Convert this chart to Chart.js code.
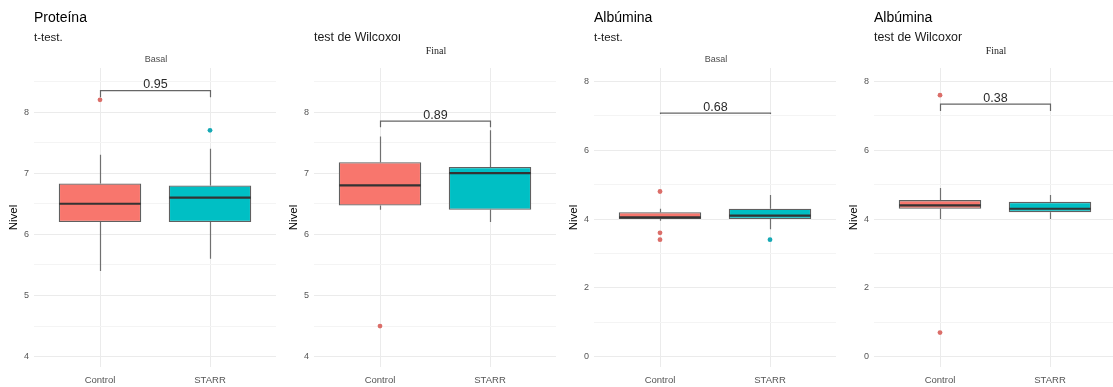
<!DOCTYPE html>
<html lang="es">
<head>
<meta charset="utf-8">
<title>Proteína y Albúmina: Control vs STARR</title>
<script src="https://cdn.jsdelivr.net/npm/chart.js@4.4.1/dist/chart.umd.min.js"></script>
<style>
  html, body { margin: 0; padding: 0; background: #ffffff; }
  body { width: 1113px; height: 387px; position: relative; overflow: hidden;
         font-family: "Liberation Sans", Arial, sans-serif; }
  .panel { position: absolute; top: 0; width: 280px; height: 387px; }
  .panel canvas { position: absolute; left: 0; top: 0; }
  .title { position: absolute; left: 34px; top: 7px; height: 20px; line-height: 20px;
           font-size: 14px; color: #000; white-space: nowrap; }
  .subtitle { position: absolute; left: 34px; top: 28px; height: 18px; line-height: 18px;
              font-size: 11.5px; color: #1a1a1a; white-space: nowrap; overflow: hidden; }
  .subtitle.wide { font-size: 12.4px; }
  .strip { position: absolute; left: 34px; width: 244px; text-align: center; height: 14px; line-height: 14px;
           white-space: nowrap; }
  .strip.sans { top: 52px; font-size: 9px; color: #4d4d4d; }
  .strip.serif { top: 44px; font-family: "Liberation Serif", "Times New Roman", serif; font-size: 10px; color: #1a1a1a; }
</style>
</head>
<body>
<script>
// Groups shown on every x axis
const groups = ['Control', 'STARR'];

// Proteína – Basal (t-test)
const protBasalLow  = [5.4, 5.6];
const protBasalQ1   = [6.2, 6.2];
const protBasalMed  = [6.5, 6.6];
const protBasalQ3   = [6.83, 6.8];
const protBasalHigh = [7.3, 7.4];
const protBasalOutControl = [8.2];
const protBasalOutStarr   = [7.7];

// Proteína – Final (Wilcoxon)
const protFinalLow  = [6.4, 6.2];
const protFinalQ1   = [6.47, 6.4];
const protFinalMed  = [6.8, 7.0];
const protFinalQ3   = [7.18, 7.1];
const protFinalHigh = [7.6, 7.7];
const protFinalOutControl = [4.5];
const protFinalOutStarr   = [];

// Albúmina – Basal (t-test)
const albBasalLow  = [3.95, 3.7];
const albBasalQ1   = [4.0, 4.0];
const albBasalMed  = [4.05, 4.1];
const albBasalQ3   = [4.2, 4.3];
const albBasalHigh = [4.3, 4.7];
const albBasalOutControl = [4.8, 3.6, 3.4];
const albBasalOutStarr   = [3.4];

// Albúmina – Final (Wilcoxon)
const albFinalLow  = [4.0, 4.0];
const albFinalQ1   = [4.3, 4.2];
const albFinalMed  = [4.4, 4.3];
const albFinalQ3   = [4.55, 4.5];
const albFinalHigh = [4.9, 4.7];
const albFinalOutControl = [7.6, 0.7];
const albFinalOutStarr   = [];

// Comparison brackets and their p-values
const pValues     = ['0.95', '0.89', '0.68', '0.38'];
const bracketY    = [8.35, 7.85, 7.08, 7.34];
const bracketTipY = [8.24, 7.75, 7.05, 7.14];

// Headings
const titles    = ['Proteína', '', 'Albúmina', 'Albúmina'];
const subtitles = ['t-test.', 'test de Wilcoxon', 't-test.', 'test de Wilcoxon'];
const strips    = ['Basal', 'Final', 'Basal', 'Final'];

// Y axis tick labels
const proteinaTicks = [4, 5, 6, 7, 8];
const albuminaTicks = [0, 2, 4, 6, 8];

const FILLS = ['#F8766D', '#00BFC4'];
const POINT_COLORS = ['#DB6E69', '#17A9B5'];
const SANS = '"Liberation Sans", Arial, sans-serif';

const panels = [
  { low: protBasalLow, q1: protBasalQ1, med: protBasalMed, q3: protBasalQ3, high: protBasalHigh,
    out: [protBasalOutControl, protBasalOutStarr], ticks: proteinaTicks, min: 3.83, max: 8.72, serif: false },
  { low: protFinalLow, q1: protFinalQ1, med: protFinalMed, q3: protFinalQ3, high: protFinalHigh,
    out: [protFinalOutControl, protFinalOutStarr], ticks: proteinaTicks, min: 3.83, max: 8.72, serif: true },
  { low: albBasalLow, q1: albBasalQ1, med: albBasalMed, q3: albBasalQ3, high: albBasalHigh,
    out: [albBasalOutControl, albBasalOutStarr], ticks: albuminaTicks, min: -0.3, max: 8.39, serif: false },
  { low: albFinalLow, q1: albFinalQ1, med: albFinalMed, q3: albFinalQ3, high: albFinalHigh,
    out: [albFinalOutControl, albFinalOutStarr], ticks: albuminaTicks, min: -0.3, max: 8.39, serif: true }
];

// The long subtitle is cut at the panel's heading box
const subtitleClip = [null, 85.5, null, 87.5];

// Whiskers under the boxes; medians and significance brackets on top
const boxPlotExtras = {
  id: 'boxPlotExtras',
  beforeDatasetsDraw(chart, args, opts) {
    const idx = opts.index;
    const p = panels[idx];
    const xs = chart.scales.x, ys = chart.scales.y;
    const ctx = chart.ctx;
    ctx.save();
    ctx.strokeStyle = '#707070';
    ctx.lineWidth = 1.2;
    groups.forEach((g, i) => {
      const x = Math.round(xs.getPixelForValue(i + 1)) + 0.5;
      ctx.beginPath();
      ctx.moveTo(x, ys.getPixelForValue(p.high[i]));
      ctx.lineTo(x, ys.getPixelForValue(p.q3[i]));
      ctx.moveTo(x, ys.getPixelForValue(p.q1[i]));
      ctx.lineTo(x, ys.getPixelForValue(p.low[i]));
      ctx.stroke();
    });
    ctx.restore();
  },
  afterDatasetsDraw(chart, args, opts) {
    const idx = opts.index;
    const p = panels[idx];
    const xs = chart.scales.x, ys = chart.scales.y;
    const ctx = chart.ctx;
    const bars = chart.getDatasetMeta(0).data;
    ctx.save();
    // medians
    ctx.strokeStyle = '#333333';
    ctx.lineWidth = 2.2;
    groups.forEach((g, i) => {
      const bar = bars[i];
      const y = ys.getPixelForValue(p.med[i]);
      ctx.beginPath();
      ctx.moveTo(bar.x - bar.width / 2 + 0.5, y);
      ctx.lineTo(bar.x + bar.width / 2 - 0.5, y);
      ctx.stroke();
    });
    // bracket
    const x1 = Math.round(xs.getPixelForValue(1)) + 0.5;
    const x2 = Math.round(xs.getPixelForValue(2)) + 0.5;
    const yb = ys.getPixelForValue(bracketY[idx]);
    const yt = ys.getPixelForValue(bracketTipY[idx]);
    ctx.strokeStyle = '#666666';
    ctx.lineWidth = 1.2;
    ctx.beginPath();
    ctx.moveTo(x1, yt);
    ctx.lineTo(x1, yb);
    ctx.lineTo(x2, yb);
    ctx.lineTo(x2, yt);
    ctx.stroke();
    ctx.fillStyle = '#2a2a2a';
    ctx.font = '12.5px ' + SANS;
    ctx.textAlign = 'center';
    ctx.textBaseline = 'alphabetic';
    ctx.fillText(pValues[idx], (x1 + x2) / 2, yb - 2.5);
    ctx.restore();
  }
};

panels.forEach((p, idx) => {
  const div = document.createElement('div');
  div.className = 'panel';
  div.style.left = (idx * 280) + 'px';
  document.body.appendChild(div);

  const canvas = document.createElement('canvas');
  canvas.width = 280; canvas.height = 387;
  canvas.style.width = '280px'; canvas.style.height = '387px';
  div.appendChild(canvas);

  if (titles[idx]) {
    const t = document.createElement('div');
    t.className = 'title'; t.textContent = titles[idx];
    div.appendChild(t);
  }
  const s = document.createElement('div');
  s.className = 'subtitle'; s.textContent = subtitles[idx];
  if (subtitleClip[idx]) { s.style.width = subtitleClip[idx] + 'px'; s.classList.add('wide'); }
  div.appendChild(s);
  const st = document.createElement('div');
  st.className = 'strip ' + (p.serif ? 'serif' : 'sans');
  st.textContent = strips[idx];
  div.appendChild(st);

  const step = p.ticks[1] - p.ticks[0];
  const minor = [];
  for (let v = p.ticks[0] - step / 2; v <= p.ticks[p.ticks.length - 1] + step / 2 + 1e-9; v += step) {
    if (v >= p.min && v <= p.max) minor.push(+v.toFixed(4));
  }
  const yTickValues = p.ticks.concat(minor).sort((a, b) => a - b);

  const outlierPoints = [];
  p.out.forEach((vals, gi) => vals.forEach(v => outlierPoints.push({ x: gi + 1, y: v, g: gi })));

  new Chart(canvas, {
    type: 'bar',
    data: {
      datasets: [
        {
          type: 'bar',
          data: groups.map((g, i) => ({ x: i + 1, y: [p.q1[i], p.q3[i]] })),
          backgroundColor: FILLS,
          borderColor: '#606060',
          borderWidth: 1.3,
          borderSkipped: false,
          categoryPercentage: 1,
          barPercentage: 0.75,
          order: 2
        },
        {
          type: 'scatter',
          data: outlierPoints,
          pointRadius: 2.4,
          pointBorderWidth: 0,
          pointBackgroundColor: ctx => POINT_COLORS[ctx.raw ? ctx.raw.g : 0],
          order: 1
        }
      ]
    },
    options: {
      responsive: false,
      animation: false,
      devicePixelRatio: 1,
      layout: { padding: { left: 0, right: 2, top: 68, bottom: 0 } },
      plugins: {
        legend: { display: false },
        tooltip: { enabled: false },
        boxPlotExtras: { index: idx }
      },
      scales: {
        x: {
          type: 'linear',
          offset: false,
          min: 0.4, max: 2.6,
          afterBuildTicks: sc => { sc.ticks = groups.map((g, i) => ({ value: i + 1 })); },
          afterFit: sc => { sc.height = 20; },
          ticks: {
            callback: v => groups[v - 1],
            color: '#555555',
            font: { family: SANS, size: 9.5 },
            padding: 7.2,
            maxRotation: 0,
            autoSkip: false
          },
          grid: { offset: false, color: '#ebebeb', lineWidth: 1, drawTicks: false },
          border: { display: false }
        },
        y: {
          type: 'linear',
          min: p.min, max: p.max,
          afterBuildTicks: sc => { sc.ticks = yTickValues.map(v => ({ value: v })); },
          afterFit: sc => { sc.width = 34; },
          ticks: {
            callback: v => (p.ticks.includes(v) ? String(v) : ''),
            color: '#555555',
            font: { family: SANS, size: 9 },
            padding: 5,
            autoSkip: false
          },
          grid: {
            color: c => (p.ticks.includes(c.tick && c.tick.value) ? '#ebebeb' : '#f4f4f4'),
            lineWidth: 1,
            drawTicks: false
          },
          border: { display: false },
          title: {
            display: true,
            text: 'Nivel',
            color: '#000000',
            font: { family: SANS, size: 11.5 },
            padding: { top: 6.5, bottom: 0 }
          }
        }
      }
    },
    plugins: [boxPlotExtras]
  });
});
</script>
</body>
</html>
